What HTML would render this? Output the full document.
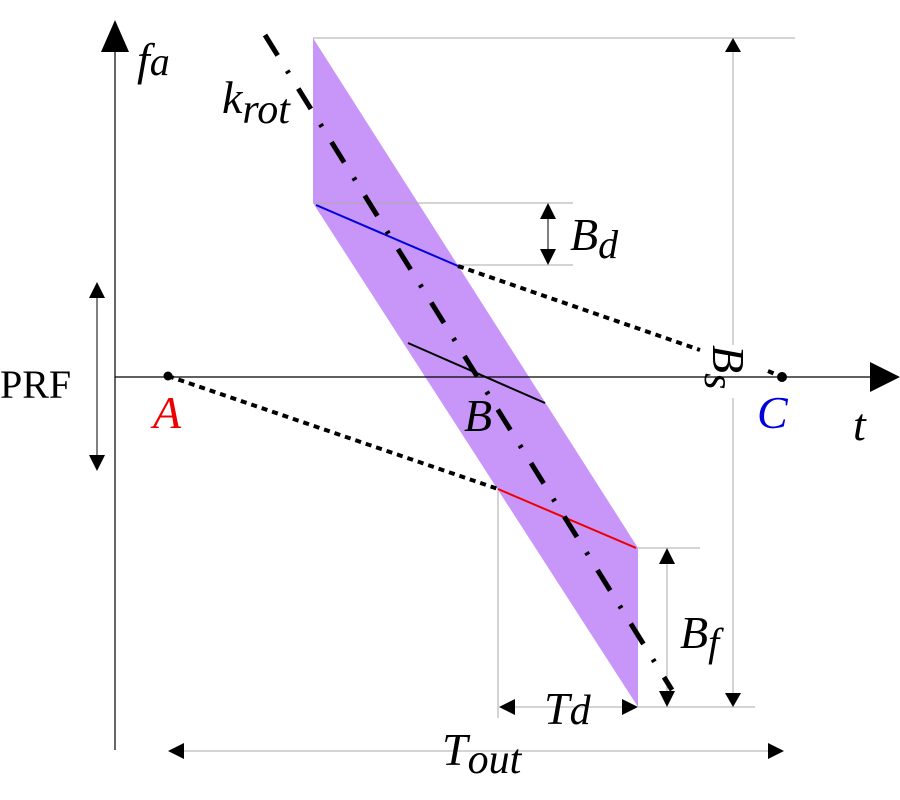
<!DOCTYPE html>
<html><head><style>body{margin:0;background:#fff}svg{display:block}text{font-family:"Liberation Serif",serif}</style></head><body>
<svg width="900" height="800" viewBox="0 0 900 800" xmlns="http://www.w3.org/2000/svg">
<defs>
<marker id="b" markerWidth="16" markerHeight="16" refX="15" refY="8" orient="auto-start-reverse" markerUnits="userSpaceOnUse"><path d="M0,0 L16,8 L0,16z" fill="#000"/></marker>
</defs>
<polygon points="313,38 638,548 638,707 313,203" fill="#c896f8"/>
<g stroke="#aaa" stroke-width="1" fill="none">
<line x1="313" y1="38" x2="795" y2="38"/>
<line x1="313" y1="203" x2="573" y2="203"/>
<line x1="458" y1="265" x2="573" y2="265"/>
<line x1="638" y1="548" x2="700" y2="548"/>
<line x1="638" y1="707" x2="755" y2="707"/>
<line x1="498" y1="489" x2="498" y2="718"/>
<line x1="733" y1="45" x2="733" y2="345"/>
<line x1="733" y1="398" x2="733" y2="700"/>
</g>
<path d="M725,52 L733,38 L741,52z M725,693 L733,707 L741,693z" fill="#000"/>
<g stroke="#aaa" stroke-width="1">
<line x1="548" y1="204" x2="548" y2="264" stroke="#000" marker-start="url(#b)" marker-end="url(#b)"/>
<line x1="667" y1="549" x2="667" y2="706" marker-start="url(#b)" marker-end="url(#b)"/>
<line x1="500" y1="707" x2="637" y2="707" marker-start="url(#b)" marker-end="url(#b)"/>
<line x1="169" y1="751" x2="783" y2="751" marker-start="url(#b)" marker-end="url(#b)"/>
<line x1="97" y1="283" x2="97" y2="470" stroke="#000" marker-start="url(#b)" marker-end="url(#b)"/>
</g>
<line x1="115" y1="750" x2="115" y2="40" stroke="#000" stroke-width="1.2"/>
<path d="M101,52 L115,20 L129,52z" fill="#000"/>
<line x1="115" y1="377" x2="880" y2="377" stroke="#000" stroke-width="1.2"/>
<path d="M870,362 L900,377 L870,392z" fill="#000"/>
<line x1="408" y1="343" x2="545" y2="403" stroke="#000" stroke-width="2"/>
<line x1="316" y1="205" x2="458" y2="266" stroke="#0000dd" stroke-width="2"/>
<line x1="498" y1="489" x2="636" y2="548" stroke="#ee0000" stroke-width="2"/>
<g stroke="#000" stroke-width="4" stroke-dasharray="6,5" fill="none">
<line x1="458" y1="266" x2="700" y2="350"/>
<line x1="168" y1="376" x2="498" y2="489"/>
<line x1="768" y1="371" x2="782" y2="377"/>
</g>
<circle cx="168" cy="376" r="4.5"/>
<circle cx="782" cy="377" r="5"/>
<line x1="265" y1="35" x2="672" y2="690" stroke="#000" stroke-width="5" stroke-dasharray="24,18,3,18"/>
<g font-style="italic" font-size="46">
<text x="137" y="75">f<tspan font-size="40">a</tspan></text>
<text x="222" y="113">k<tspan font-size="42" dy="10">rot</tspan></text>
<text x="570" y="250">B<tspan font-size="40" dy="8">d</tspan></text>
<text x="680" y="648">B<tspan font-size="40" dy="8">f</tspan></text>
<text x="544" y="724">T<tspan font-size="42">d</tspan></text>
<text x="442" y="765">T<tspan font-size="42" dy="8">out</tspan></text>
<text x="153" y="428" fill="#ee0000">A</text>
<text x="464" y="431">B</text>
<text x="757" y="428" fill="#0000dd">C</text>
<text x="853" y="440">t</text>
<text transform="translate(713,345) rotate(90)">B<tspan font-size="42" dy="8">s</tspan></text>
</g>
<text x="0" y="398" font-size="40">PRF</text>
</svg>
</body></html>
